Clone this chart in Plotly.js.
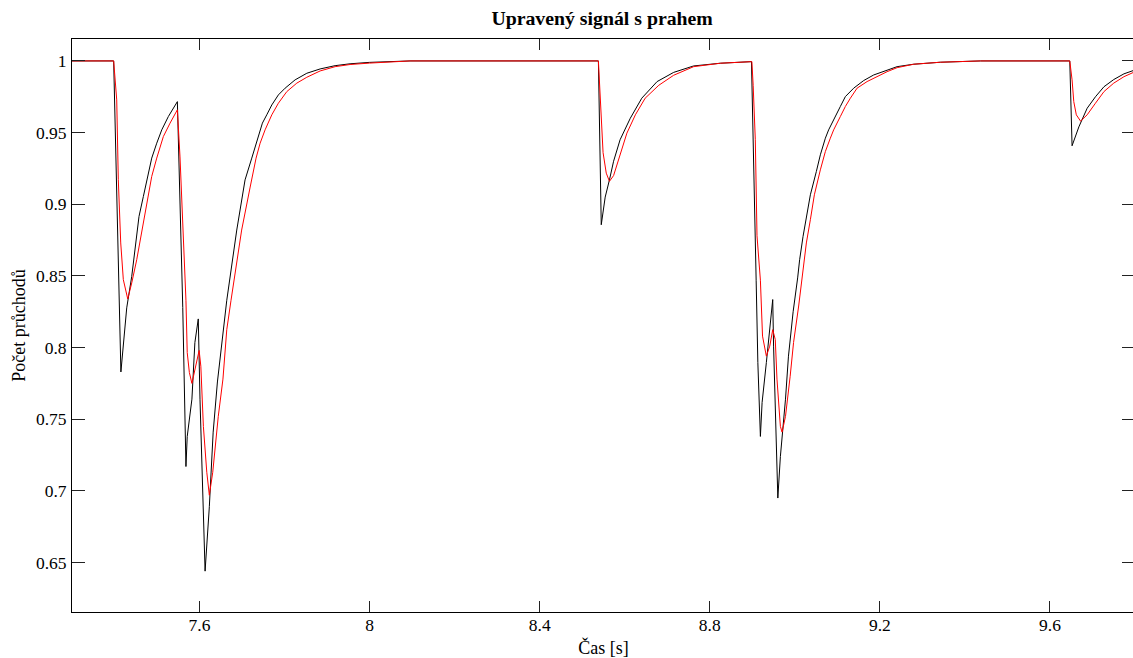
<!DOCTYPE html>
<html>
<head>
<meta charset="utf-8">
<script src="https://cdn.plot.ly/plotly-3.0.1.min.js"></script>
<style>
  html, body { margin: 0; padding: 0; background: #fff; overflow: hidden; }
</style>
</head>
<body>
<div id="graph"></div>
<script>
// values
const blackTime = [7.3, 7.398, 7.415, 7.4287, 7.4405, 7.4482, 7.4576, 7.4678, 7.4772, 7.4875, 7.4993, 7.5111, 7.5266, 7.5478,
  7.5605, 7.568, 7.571, 7.582, 7.589, 7.597, 7.601, 7.605, 7.613, 7.623, 7.632, 7.642, 7.655, 7.664,
  7.6875, 7.707, 7.7228, 7.7306, 7.7384, 7.7478, 7.7581, 7.7699, 7.7854, 7.8012, 7.8247, 7.8522, 7.8835, 7.9188, 7.954, 8.0, 8.095,
  8.538, 8.5447, 8.554, 8.564, 8.5737, 8.589, 8.613, 8.64, 8.676, 8.715, 8.762, 8.825, 8.898,
  8.909, 8.913, 8.919, 8.923, 8.933, 8.943, 8.948, 8.95, 8.954, 8.96, 8.966, 8.978, 8.985, 8.996, 9.0066,
  9.0113, 9.0193, 9.0264, 9.0365, 9.0506, 9.06, 9.0718, 9.0795, 9.107, 9.1188, 9.1384, 9.1619, 9.1854, 9.209, 9.2405, 9.2795, 9.3424, 9.4365,
  9.6466, 9.652, 9.668, 9.6875, 9.707, 9.727, 9.75, 9.774, 9.8];
const blackValue = [1, 1, 0.783, 0.8277, 0.8497, 0.8706, 0.8915, 0.9054, 0.9194, 0.9322, 0.9426, 0.9519, 0.9612, 0.9716,
  0.828, 0.717, 0.738, 0.764, 0.8035, 0.82, 0.764, 0.724, 0.644, 0.689, 0.741, 0.776, 0.8125, 0.833,
  0.882, 0.917, 0.9322, 0.9403, 0.9484, 0.9566, 0.9624, 0.9693, 0.9763, 0.981, 0.9868, 0.9914, 0.9944, 0.9967, 0.998, 0.999, 1,
  1, 0.8857, 0.905, 0.917, 0.93, 0.945, 0.96, 0.974, 0.9856, 0.992, 0.9965, 0.9984, 0.9995,
  0.847, 0.7895, 0.738, 0.7617, 0.7895, 0.817, 0.8335, 0.801, 0.7547, 0.695, 0.724, 0.764, 0.794, 0.825, 0.8486,
  0.8613, 0.8776, 0.8904, 0.9066, 0.9229, 0.9345, 0.9461, 0.9519, 0.9682, 0.9751, 0.981, 0.9863, 0.9902, 0.9925, 0.996, 0.9977, 0.9991, 1,
  1, 0.9408, 0.954, 0.967, 0.975, 0.982, 0.987, 0.991, 0.9937];

const redTime = [7.3, 7.398, 7.4052, 7.4089, 7.4146, 7.4207, 7.4311, 7.4405, 7.4522, 7.464, 7.4758, 7.4875, 7.4993, 7.5148,
  7.5306, 7.5478, 7.554, 7.562, 7.568, 7.571, 7.576, 7.582, 7.589, 7.599, 7.603, 7.609, 7.617, 7.623,
  7.631, 7.644, 7.655, 7.664, 7.674, 7.699, 7.719, 7.7329, 7.7424, 7.7541, 7.7699, 7.7854, 7.8052, 7.8287, 7.8522, 7.8835, 7.9188, 7.954, 8.0, 8.072, 8.095,
  8.538, 8.543, 8.549, 8.5565, 8.564, 8.5737, 8.589, 8.605, 8.625, 8.648, 8.68, 8.715, 8.762, 8.825, 8.899,
  8.902, 8.907, 8.911, 8.919, 8.924, 8.933, 8.941, 8.948, 8.954, 8.958, 8.966, 8.97, 8.978, 8.989, 8.997,
  9.009, 9.017, 9.0271, 9.0365, 9.0459, 9.06, 9.0718, 9.0835, 9.0913, 9.107, 9.1188, 9.1306, 9.1464, 9.1699, 9.1934, 9.217, 9.2405, 9.2795, 9.3424, 9.4365,
  9.6466, 9.652, 9.656, 9.662, 9.672, 9.6875, 9.707, 9.727, 9.75, 9.774, 9.8];
const redValue = [1, 1, 0.9728, 0.9171, 0.873, 0.8474, 0.8339, 0.8451, 0.8613, 0.881, 0.8985, 0.9194, 0.9322, 0.9472,
  0.9566, 0.9659, 0.933, 0.882, 0.833, 0.7965, 0.7826, 0.775, 0.785, 0.798, 0.787, 0.745, 0.713, 0.697,
  0.713, 0.752, 0.778, 0.8125, 0.833, 0.882, 0.912, 0.9322, 0.9426, 0.9519, 0.9624, 0.9705, 0.9786, 0.9845, 0.9886, 0.993, 0.996, 0.9975, 0.9985, 0.9997, 1,
  1, 0.9728, 0.936, 0.9217, 0.916, 0.92, 0.9345, 0.9496, 0.9624, 0.974, 0.983, 0.99, 0.996, 0.9984, 0.9995,
  0.983, 0.945, 0.878, 0.847, 0.808, 0.794, 0.801, 0.8125, 0.8056, 0.778, 0.745, 0.741, 0.752, 0.78, 0.8035,
  0.829, 0.8486, 0.873, 0.8892, 0.9066, 0.924, 0.9368, 0.9461, 0.9519, 0.9612, 0.9682, 0.974, 0.981, 0.9856, 0.9891, 0.9925, 0.9953, 0.9977, 0.9991, 1,
  1, 0.9868, 0.9716, 0.9624, 0.958, 0.9624, 0.9705, 0.9786, 0.9845, 0.989, 0.9925];

const xTicks = [7.6, 8, 8.4, 8.8, 9.2, 9.6];
const yTicks = [0.65, 0.7, 0.75, 0.8, 0.85, 0.9, 0.95, 1];

const serif = '"Liberation Serif", "Times New Roman", serif';

const black = {
    x: blackTime,
    y: blackValue,
    mode: 'lines',
    line: { color: '#000', width: 1 }
};
const red = {
    x: redTime,
    y: redValue,
    mode: 'lines',
    line: { color: '#ff0000', width: 1 }
};

const layout = {
    width: 1135,
    height: 658,
    showlegend: false,
    paper_bgcolor: '#fff',
    plot_bgcolor: '#fff',
    font: { family: serif, size: 17.5, color: '#000' },
    margin: { l: 72, r: 0, t: 39, b: 45.5, pad: 0 },
    title: {
        text: '<b>Upravený signál s prahem</b>',
        font: { family: serif, size: 19.8, color: '#000' },
        x: 0.5305,
        xanchor: 'center',
        y: 0.973,
        yanchor: 'middle'
    },
    xaxis: {
        range: [7.3, 9.8],
        tickmode: 'array',
        tickvals: xTicks,
        ticktext: xTicks.map(String),
        ticks: 'inside',
        ticklen: 11,
        tickwidth: 1,
        tickcolor: '#222',
        ticklabelstandoff: -3,
        showline: true,
        linecolor: '#000',
        linewidth: 1,
        mirror: 'ticks',
        showgrid: false,
        zeroline: false,
        title: { text: 'Čas [s]', standoff: 7, font: { size: 18 } }
    },
    yaxis: {
        range: [0.6155, 1.0153],
        tickmode: 'array',
        tickvals: yTicks,
        ticktext: yTicks.map(String),
        ticks: 'inside',
        ticklen: 13,
        tickwidth: 1,
        tickcolor: '#222',
        ticklabelstandoff: 1,
        showline: true,
        linecolor: '#000',
        linewidth: 1,
        mirror: 'ticks',
        showgrid: false,
        zeroline: false,
        title: { text: 'Počet průchodů', standoff: 5, font: { size: 18 } }
    }
};

Plotly.newPlot('graph', [black, red], layout, { displayModeBar: false, staticPlot: true });
</script>
</body>
</html>
